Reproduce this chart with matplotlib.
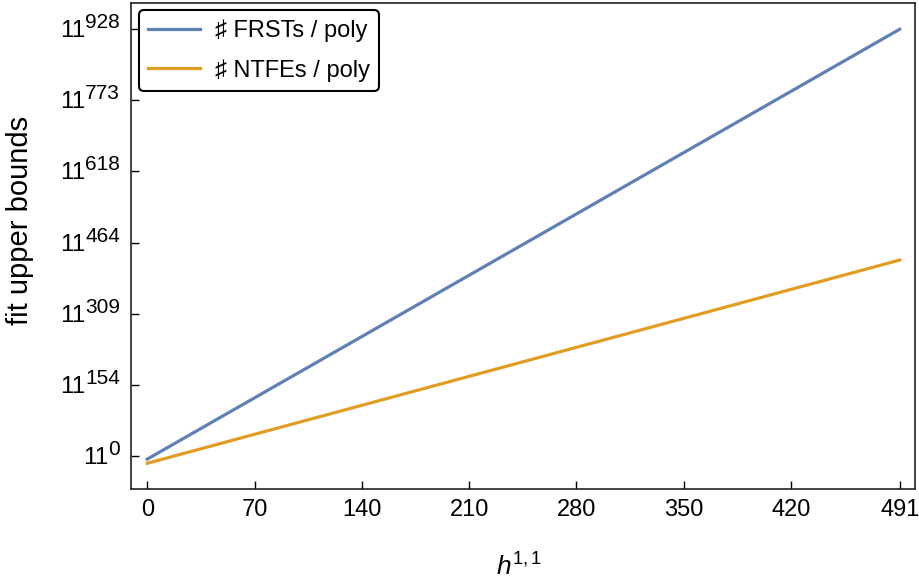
import matplotlib
matplotlib.use("Agg")
import matplotlib.pyplot as plt

plt.rcParams['font.family'] = ['Liberation Sans', 'DejaVu Sans']
plt.rcParams['mathtext.fontset'] = 'custom'
plt.rcParams['mathtext.rm'] = 'Liberation Sans'
plt.rcParams['mathtext.it'] = 'Liberation Sans:italic'

# fitted upper bounds, as exponents of 11
h11 = [0, 491]
frst_exp = [-7, 928]
ntfe_exp = [-16, 426]

x_ticks = [0, 70, 140, 210, 280, 350, 420, 491]
y_max = 928.2
y_ticks = [y_max * k / 6 for k in range(7)]
y_powers = [str(int(v)) for v in y_ticks]

fig = plt.figure(figsize=(9.2, 5.81), dpi=100)
ax = fig.add_axes([0.1424, 0.1583, 0.8522, 0.8365])

ax.plot(h11, frst_exp, color="#5E81B5", lw=2.3, label="♯ FRSTs / poly")
ax.plot(h11, ntfe_exp, color="#E19C24", lw=2.3, label="♯ NTFEs / poly")

ax.set_xlim(-10.6, 501)
ax.set_ylim(-72, 985)
ax.set_xticks(x_ticks)
ax.set_xticklabels([str(v) for v in x_ticks])
ax.set_yticks(y_ticks)
ax.set_yticklabels([])
ax.tick_params(direction="in", length=6, width=1, labelsize=17, pad=7)

# y tick labels drawn as 11 with a big superscript
for v, p in zip(y_ticks, y_powers):
    sup = ax.annotate(p, xy=(0, v), xycoords=("axes fraction", "data"),
                      xytext=(-11, 1), textcoords="offset pixels",
                      ha="right", va="baseline", fontsize=15)
    ax.annotate("11", xy=(0, 0), xycoords=sup,
                xytext=(0, -10), textcoords="offset pixels",
                ha="right", va="bottom", fontsize=17.5)

for s in ax.spines.values():
    s.set_linewidth(1.2)
    s.set_color("#222222")

ax.set_ylabel("fit upper bounds", fontsize=21)
ax.yaxis.set_label_coords(-0.124, 0.553)
ax.set_xlabel(r"$h^{1,1}$", fontsize=19, va="top")
ax.xaxis.set_label_coords(0.495, -0.132)

leg = ax.legend(loc="upper left", bbox_to_anchor=(0.0102, 0.9856),
                fontsize=17, frameon=True, fancybox=True, borderaxespad=0,
                handlelength=2.2, handletextpad=0.6, labelspacing=0.72)
leg.get_frame().set_edgecolor("black")
leg.get_frame().set_linewidth(1.5)
leg.get_frame().set_alpha(1)

fig.savefig("out.png", dpi=100)
